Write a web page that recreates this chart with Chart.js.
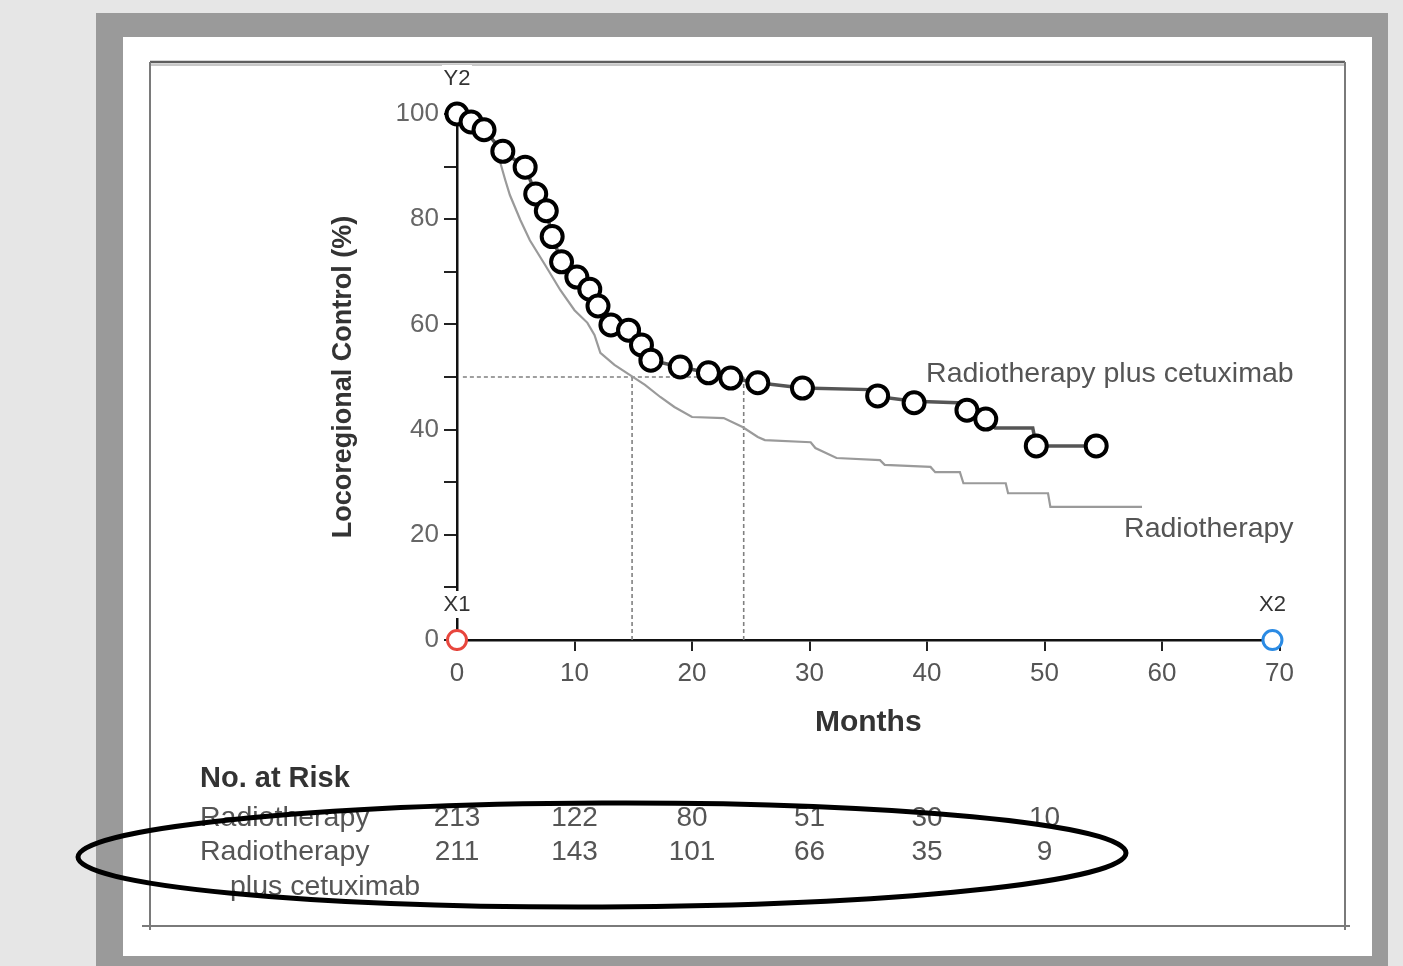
<!DOCTYPE html>
<html>
<head>
<meta charset="utf-8">
<script src="https://cdn.jsdelivr.net/npm/chart.js@4.4.1/dist/chart.umd.min.js"></script>
<style>
  html, body { margin: 0; padding: 0; background: #e6e6e6; overflow: hidden; }
  canvas { display: block; }
</style>
</head>
<body>
<canvas id="km" width="1403" height="966"></canvas>
<script>
// Locoregional control (Kaplan-Meier): radiotherapy vs radiotherapy plus cetuximab

// Radiotherapy alone, step curve corners (months, % control)
const rtMonths  = [0, 1.5, 3.0, 3.5, 4.1, 4.5, 5.4, 6.2, 7.5, 8.8, 10.0, 11.1, 11.7, 12.2, 13.4, 14.7, 16.0, 17.3, 18.5, 20.0, 22.7, 24.3, 25.6, 26.2, 30.1, 30.5, 32.3, 36.0, 36.4, 40.3, 40.7, 42.8, 43.1, 46.7, 46.9, 50.3, 50.5, 58.3];
const rtControl = [100, 98.5, 95.5, 92.2, 87.5, 84.6, 79.8, 76.0, 71.3, 66.5, 62.7, 60.3, 58.0, 54.6, 52.3, 50.4, 48.5, 46.2, 44.3, 42.4, 42.2, 40.5, 38.6, 38.0, 37.6, 36.5, 34.6, 34.2, 33.3, 32.9, 31.9, 31.9, 29.8, 29.8, 27.9, 27.9, 25.3, 25.3];

// Radiotherapy plus cetuximab, step curve corners
const cetMonths  = [0, 1.2, 2.3, 3.9, 5.8, 6.7, 7.6, 8.1, 8.9, 10.2, 11.3, 12.0, 13.1, 14.6, 15.7, 16.5, 19.0, 21.4, 23.3, 25.6, 29.4, 35.1, 35.4, 38.9, 42.6, 43.4, 45.0, 45.8, 49.0, 49.3, 54.4];
const cetControl = [100, 98.5, 97.0, 92.9, 89.9, 84.8, 81.6, 76.7, 71.9, 69.0, 66.7, 63.5, 59.9, 58.9, 56.1, 53.2, 51.9, 50.8, 49.8, 48.9, 47.9, 47.6, 46.4, 45.4, 45.1, 43.7, 42.0, 40.3, 40.3, 36.9, 36.9];

// Picked points along the cetuximab curve (open circles)
const markerMonths  = [0, 1.2, 2.3, 3.9, 5.8, 6.7, 7.6, 8.1, 8.9, 10.2, 11.3, 12.0, 13.1, 14.6, 15.7, 16.5, 19.0, 21.4, 23.3, 25.6, 29.4, 35.8, 38.9, 43.4, 45.0, 49.3, 54.4];
const markerControl = [100, 98.5, 97.0, 92.9, 89.9, 84.8, 81.6, 76.7, 71.9, 69.0, 66.7, 63.5, 59.9, 58.9, 56.1, 53.2, 51.9, 50.8, 49.8, 48.9, 47.9, 46.4, 45.1, 43.7, 42.0, 36.9, 36.9];

// Axis calibration points
const calibNames   = ['X1', 'X2', 'Y2'];
const calibMonths  = [0, 69.4, 0];
const calibControl = [0, 0, 100];
const calibColors  = ['#e8463d', '#2b8be4', '#e8463d'];

// Medians (months) at 50% control
const medianRadiotherapy = 14.9;
const medianCetuximab = 24.4;

// Axis ticks
const monthStep = 10;
const controlStep = 10;
const controlLabelStep = 20;

// Number at risk
const riskMonths = [0, 10, 20, 30, 40, 50];
const riskRadiotherapy = [213, 122, 80, 51, 30, 10];
const riskCetuximab = [211, 143, 101, 66, 35, 9];

const FONT = "'Liberation Sans', Arial, sans-serif";
const pts = (xs, ys) => xs.map((x, i) => ({ x: x, y: ys[i] }));

// Page frame behind the plot
const framePlugin = {
  id: 'frame',
  beforeDraw(chart) {
    const c = chart.ctx;
    c.save();
    c.fillStyle = '#e6e6e6';
    c.fillRect(0, 0, chart.width, chart.height);
    c.fillStyle = '#9a9a9a';
    c.fillRect(96, 13, 1292, 953);
    c.fillStyle = '#ffffff';
    c.fillRect(123, 37, 1249, 919);
    // inner box
    c.strokeStyle = '#c8c8c8';
    c.lineWidth = 2;
    c.beginPath();
    c.moveTo(150, 65); c.lineTo(1345, 65);
    c.stroke();
    c.strokeStyle = '#5e5e5e';
    c.lineWidth = 2.5;
    c.beginPath();
    c.moveTo(150, 62); c.lineTo(1345, 62);
    c.stroke();
    c.strokeStyle = '#7a7a7a';
    c.lineWidth = 2;
    c.beginPath();
    c.moveTo(150, 62); c.lineTo(150, 930);
    c.moveTo(1345, 62); c.lineTo(1345, 930);
    c.moveTo(142, 926); c.lineTo(1350, 926);
    c.stroke();
    c.restore();
  }
};

// Curve names, calibration tags and the at-risk table
const labelPlugin = {
  id: 'labels',
  afterDatasetsDraw(chart) {
    const c = chart.ctx;
    const xs = chart.scales.x, ys = chart.scales.y;
    c.save();
    c.font = '28.5px ' + FONT;
    c.fillStyle = '#555';
    c.textAlign = 'right';
    c.textBaseline = 'middle';
    c.fillText('Radiotherapy plus cetuximab', xs.getPixelForValue(71.2), ys.getPixelForValue(50.5));
    c.fillText('Radiotherapy', xs.getPixelForValue(71.2), ys.getPixelForValue(21.0));

    c.font = '22px ' + FONT;
    c.textAlign = 'center';
    calibNames.forEach((name, i) => {
      const px = xs.getPixelForValue(calibMonths[i]);
      const py = ys.getPixelForValue(calibControl[i]) - 36;
      c.fillStyle = '#ffffff';
      c.fillRect(px - 15, py - 13, 30, 27);
      c.fillStyle = '#333';
      c.fillText(name, px, py + 1);
    });
    c.restore();
  },
  afterDraw(chart) {
    const c = chart.ctx;
    const xs = chart.scales.x;
    c.save();
    c.textBaseline = 'middle';
    c.textAlign = 'left';
    c.fillStyle = '#333';
    c.font = 'bold 29px ' + FONT;
    c.fillText('No. at Risk', 200, 779);
    c.font = '28.5px ' + FONT;
    c.fillStyle = '#555';
    c.fillText('Radiotherapy', 200, 818);
    c.fillText('Radiotherapy', 200, 852);
    c.fillText('plus cetuximab', 230, 887);
    c.font = '28px ' + FONT;
    c.textAlign = 'center';
    riskMonths.forEach((m, i) => {
      const px = xs.getPixelForValue(m);
      c.fillText(String(riskRadiotherapy[i]), px, 818);
      c.fillText(String(riskCetuximab[i]), px, 852);
    });
    // hand-drawn emphasis ring around the at-risk rows
    c.strokeStyle = '#000';
    c.lineWidth = 5;
    c.beginPath();
    c.ellipse(602, 855, 524, 52, -0.004, 0, Math.PI * 2);
    c.stroke();
    c.restore();
  }
};

const tickFont = { family: FONT, size: 26 };

new Chart(document.getElementById('km'), {
  type: 'line',
  data: {
    datasets: [
      {
        label: 'Picked points',
        data: pts(markerMonths, markerControl),
        showLine: false,
        pointRadius: 10.5,
        pointBorderWidth: 4,
        pointBorderColor: '#000',
        pointBackgroundColor: '#fff',
        clip: false,
        order: 0
      },
      {
        label: 'Calibration',
        data: pts(calibMonths, calibControl),
        showLine: false,
        pointRadius: 9.5,
        pointBorderWidth: 3,
        pointBorderColor: calibColors,
        pointBackgroundColor: '#fff',
        clip: false,
        order: 1
      },
      {
        label: 'Radiotherapy plus cetuximab',
        data: pts(cetMonths, cetControl),
        borderColor: '#555',
        borderWidth: 3.5,
        pointRadius: 0,
        tension: 0,
        clip: false,
        order: 2
      },
      {
        label: 'Radiotherapy',
        data: pts(rtMonths, rtControl),
        borderColor: '#9a9a9a',
        borderWidth: 2.2,
        pointRadius: 0,
        tension: 0,
        clip: false,
        order: 3
      },
      {
        label: 'Median line',
        data: [{ x: 0.5, y: 50 }, { x: medianCetuximab, y: 50 }],
        borderColor: '#808080',
        borderWidth: 1.6,
        borderDash: [4, 3],
        pointRadius: 0,
        order: 4
      },
      {
        label: 'Median radiotherapy',
        data: [{ x: medianRadiotherapy, y: 50 }, { x: medianRadiotherapy, y: 0 }],
        borderColor: '#808080',
        borderWidth: 1.6,
        borderDash: [4, 3],
        pointRadius: 0,
        order: 4
      },
      {
        label: 'Median cetuximab',
        data: [{ x: medianCetuximab, y: 50 }, { x: medianCetuximab, y: 0 }],
        borderColor: '#808080',
        borderWidth: 1.6,
        borderDash: [4, 3],
        pointRadius: 0,
        order: 4
      }
    ]
  },
  options: {
    responsive: false,
    animation: false,
    devicePixelRatio: 1,
    events: [],
    layout: { padding: { left: 0, top: 114, right: 123.5, bottom: 0 } },
    plugins: {
      legend: { display: false },
      tooltip: { enabled: false },
      title: { display: false }
    },
    scales: {
      x: {
        type: 'linear',
        position: 'bottom',
        min: 0,
        max: 70,
        afterFit: (s) => { s.height = 326; },
        ticks: { stepSize: monthStep, font: tickFont, color: '#555', padding: 7, maxRotation: 0, autoSkip: false },
        grid: { drawOnChartArea: false, drawTicks: true, tickLength: 11, color: '#222', lineWidth: 2 },
        border: { display: true, color: '#111', width: 2.5 },
        title: { display: true, text: 'Months', font: { family: FONT, size: 30, weight: 'bold' }, color: '#333', padding: { top: 0, bottom: 225 } }
      },
      y: {
        type: 'linear',
        position: 'left',
        min: 0,
        max: 100,
        afterFit: (s) => { s.width = 457; },
        ticks: {
          stepSize: controlStep,
          font: tickFont,
          color: '#666',
          padding: 5,
          autoSkip: false,
          callback: (v) => (v % controlLabelStep === 0 ? String(v) : '')
        },
        grid: { drawOnChartArea: false, drawTicks: true, tickLength: 13, color: '#222', lineWidth: 2 },
        border: { display: true, color: '#111', width: 2.5 },
        title: { display: true, text: 'Locoregional Control (%)', font: { family: FONT, size: 27, weight: 'bold' }, color: '#333', padding: { top: 327, bottom: 0 } }
      }
    }
  },
  plugins: [framePlugin, labelPlugin]
});
</script>
</body>
</html>
